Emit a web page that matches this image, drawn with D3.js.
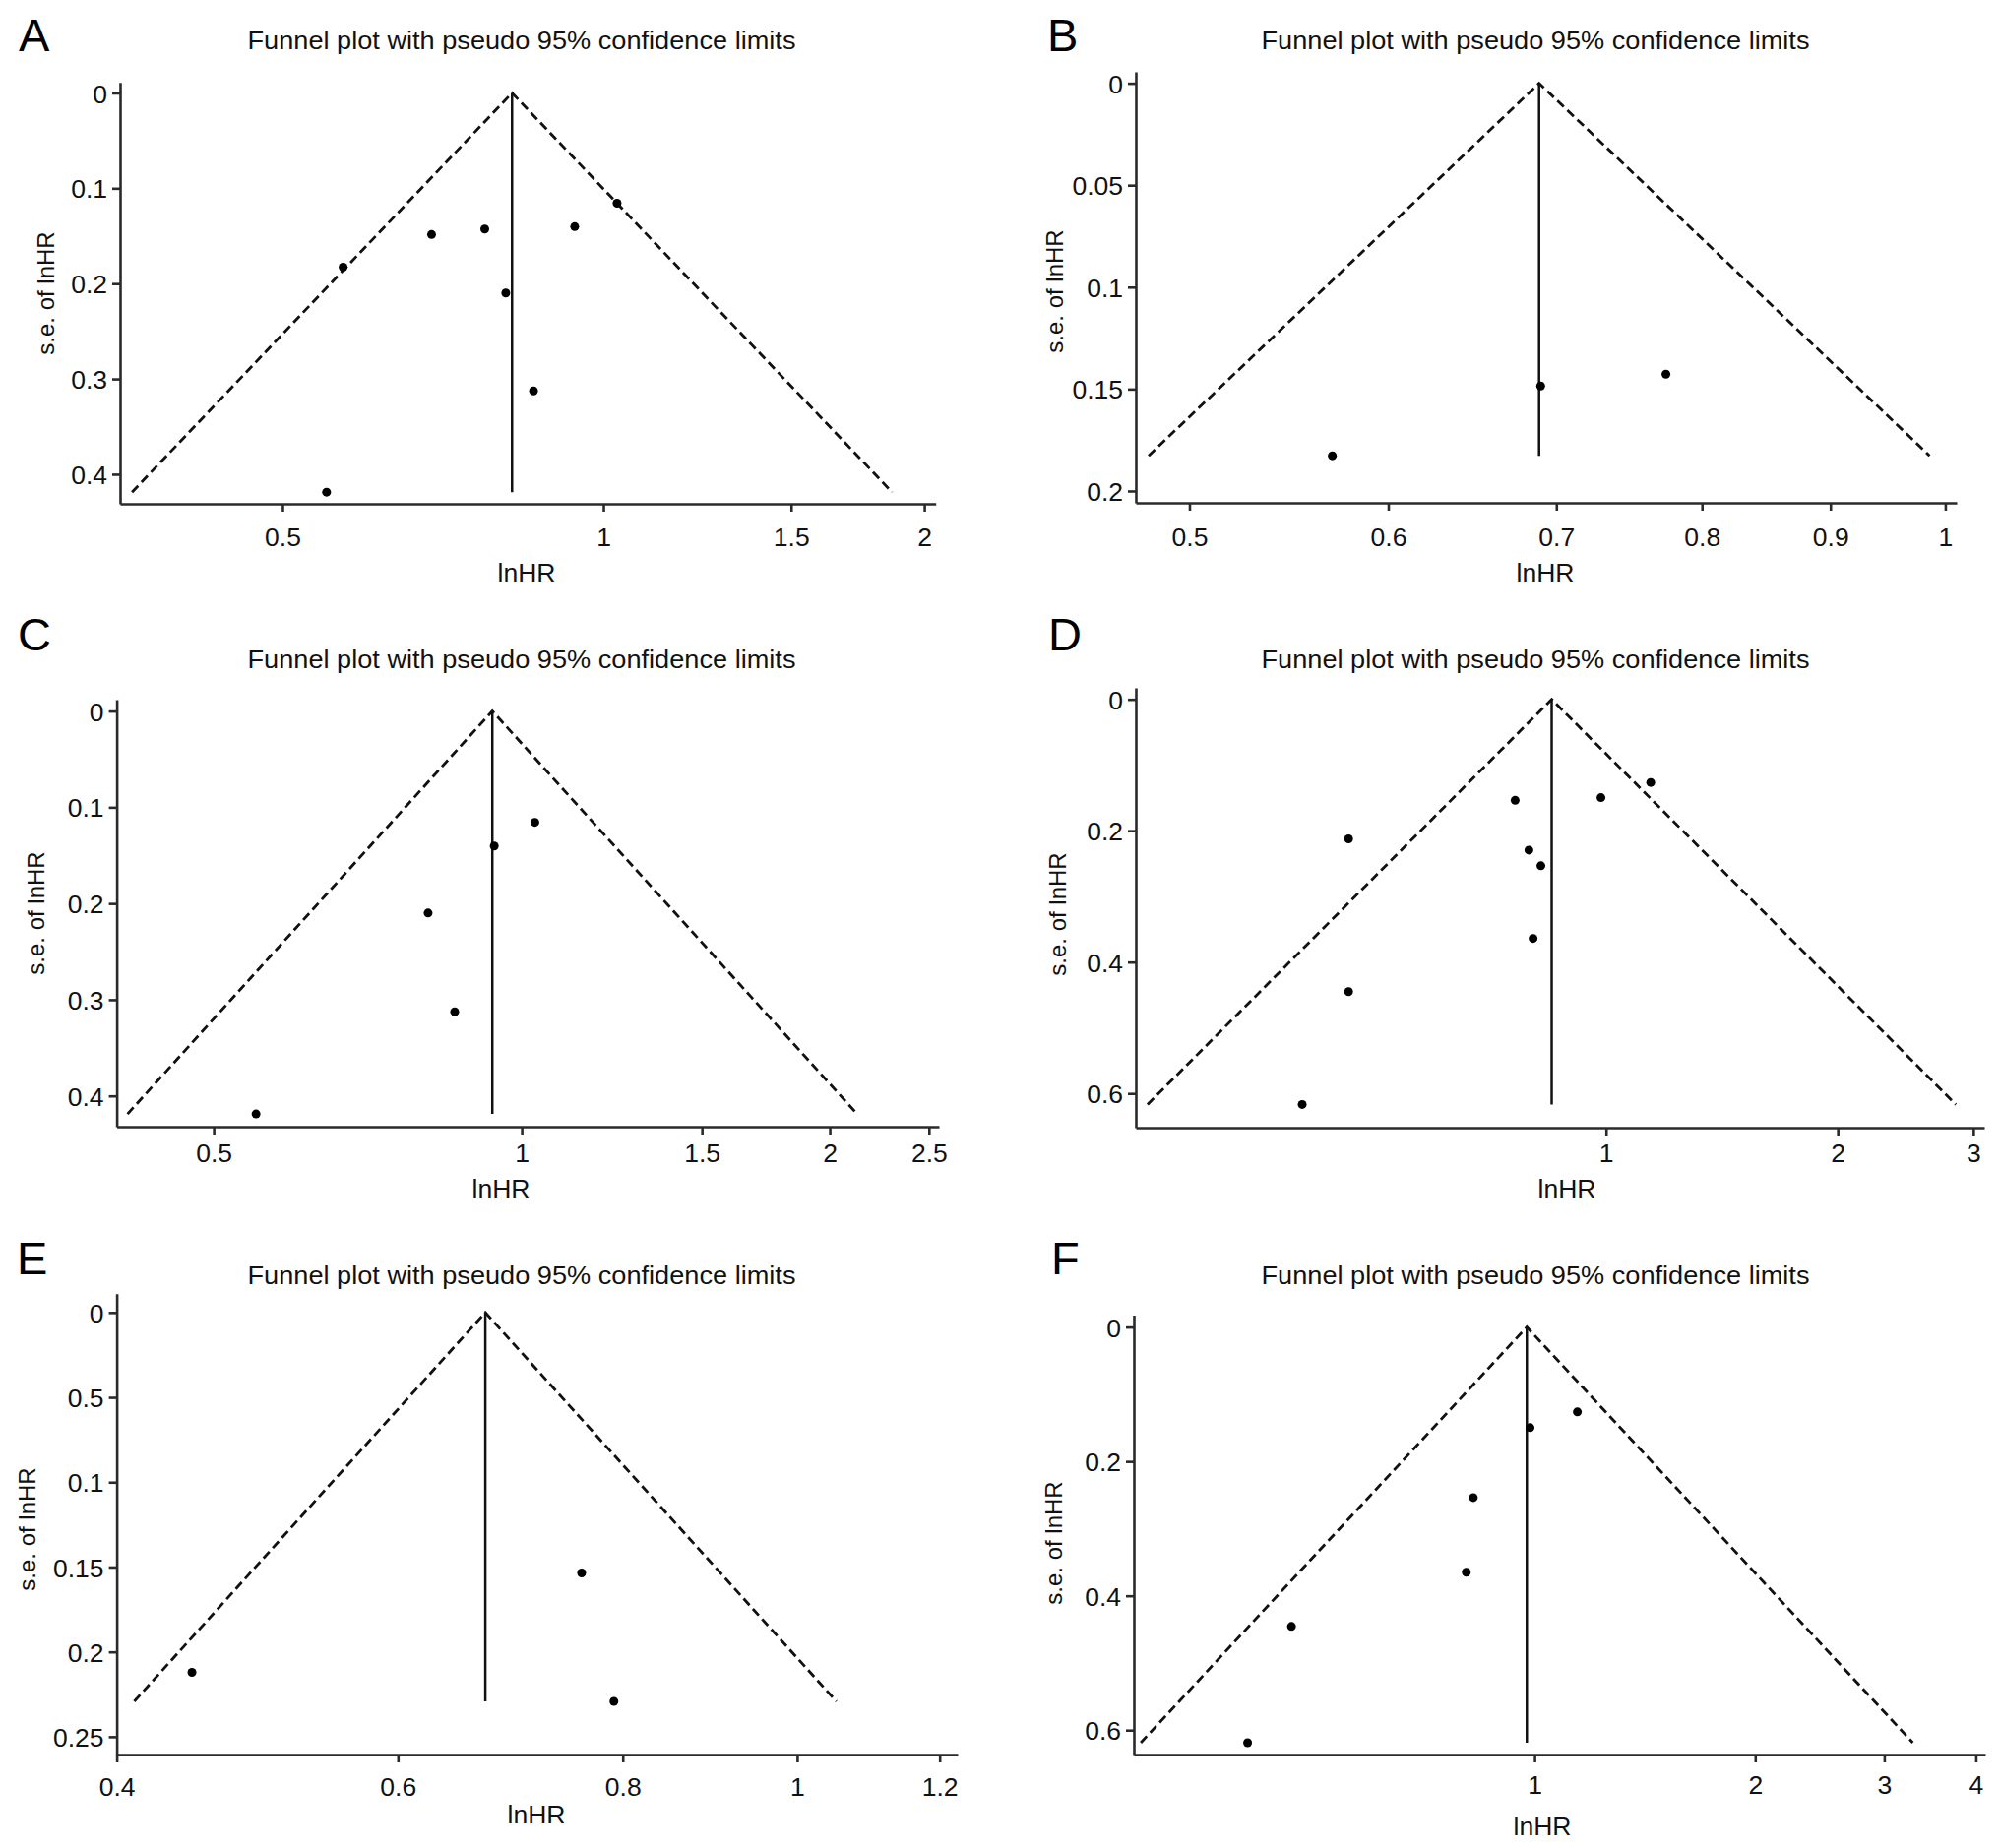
<!DOCTYPE html>
<html lang="en">
<head>
<meta charset="UTF-8">
<title>Funnel plots</title>
<script src="https://d3js.org/d3.v7.min.js"></script>
<style>
  html, body { margin: 0; padding: 0; background: #fff; }
  svg { display: block; font-family: "Liberation Sans", Arial, Helvetica, sans-serif; }
  .axis path, .axis line { stroke: #2a2a2a; stroke-width: 2.6; }
  .axis text { font-size: 26.5px; fill: #111; }
  .funnel { fill: none; stroke: #111; stroke-width: 2.8; stroke-dasharray: 9 5; }
  .pooled { stroke: #111; stroke-width: 2.5; }
  .dot { fill: #000; }
</style>
</head>
<body>
<svg id="canvas"></svg>
<script>
// ---- data (HR on log axis, s.e. of lnHR) ----
const hrA = [1.030, 0.940, 0.774, 0.690, 0.570, 0.810, 0.860, 0.550];
const seA = [0.1156, 0.1403, 0.1427, 0.1485, 0.1827, 0.2099, 0.3125, 0.4188];
const pooledA = 0.821;

const hrB = [0.690, 0.774, 0.570];
const seB = [0.1485, 0.1427, 0.1827];
const pooledB = 0.689;

const hrC = [1.030, 0.940, 0.810, 0.860, 0.550];
const seC = [0.1156, 0.1403, 0.2099, 0.3125, 0.4188];
const pooledC = 0.936;

const hrD = [1.143, 0.985, 0.762, 0.463, 0.794, 0.823, 0.804, 0.463, 0.403];
const seD = [0.1265, 0.1497, 0.1538, 0.2125, 0.2295, 0.2534, 0.364, 0.445, 0.6168];
const pooledD = 0.850;

const hrE = [0.759, 0.461, 0.791];
const seE = [0.1535, 0.2121, 0.2292];
const pooledE = 0.671;

const hrF = [1.144, 0.986, 0.825, 0.807, 0.466, 0.406];
const seF = [0.1263, 0.1497, 0.2538, 0.3649, 0.4456, 0.6187];
const pooledF = 0.976;

// tick values and labels
const xTicksA = [0.5, 1, 1.5, 2];
const xTicksB = [0.5, 0.6, 0.7, 0.8, 0.9, 1];
const xTicksC = [0.5, 1, 1.5, 2, 2.5];
const xTicksD = [1, 2, 3];
const xTicksE = [0.4, 0.6, 0.8, 1, 1.2];
const xTicksF = [1, 2, 3, 4];

const yTicksA = [0, 0.1, 0.2, 0.3, 0.4];
const yTicksB = [0, 0.05, 0.1, 0.15, 0.2];
const yTicksC = [0, 0.1, 0.2, 0.3, 0.4];
const yTicksD = [0, 0.2, 0.4, 0.6];
const yTicksE = [0, 0.05, 0.1, 0.15, 0.2, 0.25];
const yTicksF = [0, 0.2, 0.4, 0.6];
const yLabelsE = ['0', '0.5', '0.1', '0.15', '0.2', '0.25'];

const titleText = 'Funnel plot with pseudo 95% confidence limits';
const xTitle = 'lnHR';
const yTitle = 's.e. of lnHR';

// ---- layout ----
const width = 2032;
const height = 1878;
const svg = d3.select('#canvas').attr('width', width).attr('height', height);
svg.append('rect').attr('width', width).attr('height', height).attr('fill', '#fff');

const panels = [
  { letter: 'A', hr: hrA, se: seA, pooled: pooledA, xTicks: xTicksA, yTicks: yTicksA,
    left: 122, right: 950.7, top: 83.7, bottom: 512, xDom: [0.3521, 2.050], yDom: [-0.0111, 0.4310],
    letterPos: [19, 52], titlePos: [530, 50], xtPos: [535, 591], ytPos: [55, 298], lblOff: 43 },
  { letter: 'B', hr: hrB, se: seB, pooled: pooledB, xTicks: xTicksB, yTicks: yTicksB,
    left: 1154, right: 1988, top: 73, bottom: 511, xDom: [0.476, 1.0105], yDom: [-0.0056, 0.2058],
    letterPos: [1064, 52], titlePos: [1560, 50], xtPos: [1570, 591], ytPos: [1080, 296], lblOff: 44 },
  { letter: 'C', hr: hrC, se: seC, pooled: pooledC, xTicks: xTicksC, yTicks: yTicksC,
    left: 118.6, right: 954, top: 711, bottom: 1145, xDom: [0.402, 2.557], yDom: [-0.01186, 0.4320],
    letterPos: [18, 661], titlePos: [530, 679], xtPos: [509, 1217], ytPos: [45, 928], lblOff: 36 },
  { letter: 'D', hr: hrD, se: seD, pooled: pooledD, xTicks: xTicksD, yTicks: yTicksD,
    left: 1154, right: 2016, top: 699, bottom: 1146, xDom: [0.245, 3.10], yDom: [-0.0175, 0.6521],
    letterPos: [1065, 661], titlePos: [1560, 679], xtPos: [1592, 1217], ytPos: [1083, 929], lblOff: 35 },
  { letter: 'E', hr: hrE, se: seE, pooled: pooledE, xTicks: xTicksE, yTicks: yTicksE, yLabels: yLabelsE,
    left: 118.6, right: 973, top: 1314.7, bottom: 1783, xDom: [0.4187, 1.228], yDom: [-0.0111, 0.2605],
    letterPos: [17, 1295], titlePos: [530, 1305], xtPos: [545, 1853], ytPos: [36, 1554], lblOff: 42 },
  { letter: 'F', hr: hrF, se: seF, pooled: pooledF, xTicks: xTicksF, yTicks: yTicksF,
    left: 1152, right: 2017, top: 1336.6, bottom: 1783, xDom: [0.284, 4.12], yDom: [-0.0176, 0.6363],
    letterPos: [1068, 1295], titlePos: [1560, 1305], xtPos: [1567, 1865], ytPos: [1079, 1568], lblOff: 40 }
];

let drawPanel = (p) => {
  let g = svg.append('g').attr('class', 'panel');

  let x = d3.scaleLog().domain(p.xDom).range([p.left, p.right]).clamp(true);
  let y = d3.scaleLinear().domain(p.yDom).range([p.top, p.bottom]);

  // x axis
  let xAxis = d3.axisBottom(x)
    .tickValues(p.xTicks)
    .tickFormat(d => String(d))
    .tickSizeOuter(0)
    .tickSizeInner(8);
  let gx = g.append('g').attr('class', 'axis')
    .attr('transform', 'translate(0,' + p.bottom + ')')
    .call(xAxis);
  gx.selectAll('text').attr('y', p.lblOff).attr('dy', 0);

  // y axis
  let yAxis = d3.axisLeft(y)
    .tickValues(p.yTicks)
    .tickFormat((d, i) => p.yLabels ? p.yLabels[i] : String(d))
    .tickSizeOuter(0)
    .tickSizeInner(8)
    .tickPadding(5);
  let gy = g.append('g').attr('class', 'axis')
    .attr('transform', 'translate(' + p.left + ',0)')
    .call(yAxis);
  gy.selectAll('text').attr('dy', '0.36em');

  // funnel limits
  let seMax = d3.max(p.se);
  let lo = p.pooled * Math.exp(-1.96 * seMax);
  let hi = p.pooled * Math.exp(1.96 * seMax);
  let funnel = [[lo, seMax], [p.pooled, 0], [hi, seMax]];
  g.append('path')
    .datum(funnel)
    .attr('class', 'funnel')
    .attr('d', d3.line().x(d => x(d[0])).y(d => y(d[1])));

  // pooled estimate
  g.append('line')
    .attr('class', 'pooled')
    .attr('x1', x(p.pooled)).attr('x2', x(p.pooled))
    .attr('y1', y(0)).attr('y2', y(seMax));

  // studies
  g.selectAll('circle')
    .data(p.hr.map((h, i) => [h, p.se[i]]))
    .enter()
    .append('circle')
    .attr('class', 'dot')
    .attr('cx', d => x(d[0]))
    .attr('cy', d => y(d[1]))
    .attr('r', 4.5);

  // texts
  g.append('text')
    .attr('x', p.letterPos[0]).attr('y', p.letterPos[1])
    .attr('font-size', 47).attr('fill', '#000')
    .text(p.letter);

  g.append('text')
    .attr('x', p.titlePos[0]).attr('y', p.titlePos[1])
    .attr('text-anchor', 'middle')
    .attr('font-size', 26).attr('fill', '#111')
    .attr('textLength', 557).attr('lengthAdjust', 'spacingAndGlyphs')
    .text(titleText);

  g.append('text')
    .attr('x', p.xtPos[0]).attr('y', p.xtPos[1])
    .attr('text-anchor', 'middle')
    .attr('font-size', 26.5).attr('fill', '#111')
    .text(xTitle);

  g.append('text')
    .attr('transform', 'translate(' + p.ytPos[0] + ',' + p.ytPos[1] + ') rotate(-90)')
    .attr('text-anchor', 'middle')
    .attr('font-size', 24).attr('fill', '#111')
    .text(yTitle);
};

panels.forEach(drawPanel);
</script>
</body>
</html>
